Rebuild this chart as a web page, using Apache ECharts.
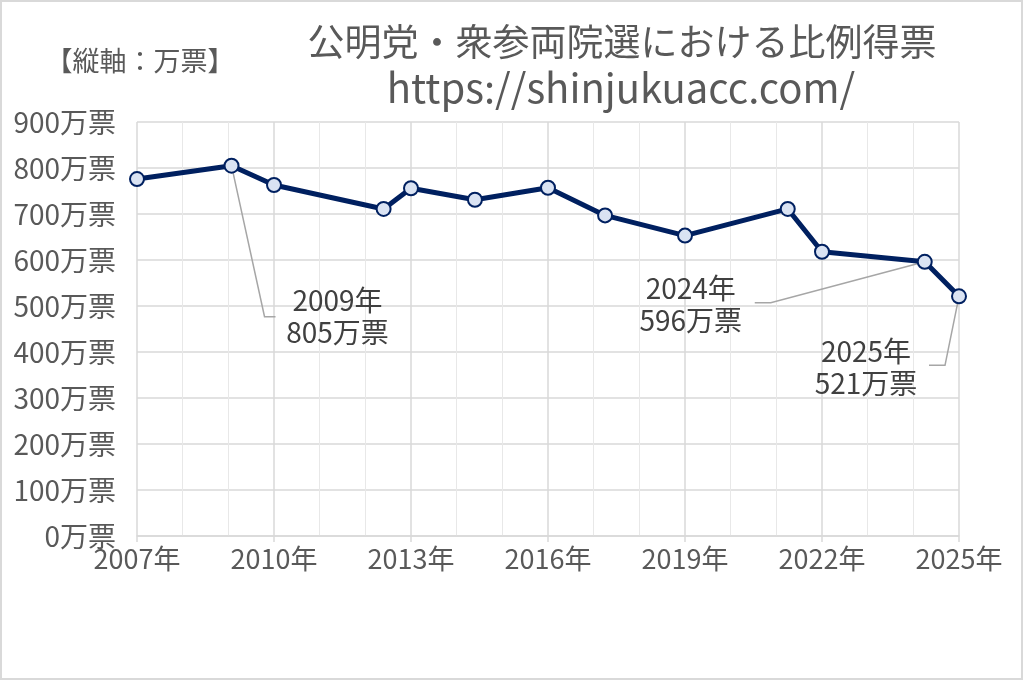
<!DOCTYPE html>
<html>
<head>
<meta charset="utf-8">
<script src="https://cdn.jsdelivr.net/npm/echarts@6/dist/echarts.min.js"></script>
<style>
html, body { margin: 0; padding: 0; background: #fff; }
#main { width: 1024px; height: 681px; }
</style>
</head>
<body>
<div id="main"></div>
<script>
// 選挙の時期（年、小数は月の位置）と比例得票（万票）
var electionYears = [2007, 2009.07, 2010, 2012.4, 2013, 2014.4, 2016, 2017.25, 2019, 2021.25, 2022, 2024.25, 2025];
var yearNames = ['2007', '2009', '2010', '2012', '2013', '2014', '2016', '2017', '2019', '2021', '2022', '2024', '2025'];
var votes = [776, 805, 763, 711, 756, 731, 757, 697, 653, 711, 618, 596, 521];
var calloutIndex = [1, 11, 12];
// ラベルのずらし量と引き出し線の折れ点（点からの相対ピクセル）
var calloutOffset = { 1: [106, 196], 11: [-234, 88], 12: [-93, 116] };
var calloutElbow = { 1: [[33, 151], [44, 151]], 11: [[-154, 41], [-170, 41]], 12: [[-14, 69], [-30, 69]] };

var font = '"Noto Sans CJK JP", "Noto Sans", sans-serif';

var seriesData = [];
for (var i = 0; i < votes.length; i++) {
	var item = { value: [electionYears[i], votes[i]] };
	if (calloutIndex.indexOf(i) >= 0) {
		item.label = {
			show: true,
			formatter: yearNames[i] + '年\n' + votes[i] + '万票'
		};
	}
	seriesData.push(item);
}

var chart = echarts.init(document.getElementById('main'));
var option = {
	backgroundColor: '#ffffff',
	animation: false,
	title: [
		{
			text: '公明党・衆参両院選における比例得票',
			left: 617,
			top: 18,
			textAlign: 'center',
			textStyle: { fontFamily: font, fontSize: 37, fontWeight: 'normal', color: '#595959' }
		},
		{
			text: 'https://shinjukuacc.com/',
			left: 616,
			top: 63,
			textAlign: 'center',
			textStyle: { fontFamily: font, fontSize: 40, fontWeight: 'normal', color: '#595959' }
		},
		{
			text: '【縦軸：万票】',
			left: 135,
			top: 42,
			textAlign: 'center',
			textStyle: { fontFamily: font, fontSize: 27, fontWeight: 'normal', color: '#595959' }
		}
	],
	grid: { left: 137, right: 65, top: 122, bottom: 145 },
	xAxis: {
		type: 'value',
		min: 2007,
		max: 2025,
		interval: 3,
		axisLine: { show: true, lineStyle: { color: '#d9d9d9', width: 1.5 } },
		axisTick: { show: true, length: 6, lineStyle: { color: '#d9d9d9', width: 1.5 } },
		minorTick: { show: false, splitNumber: 3 },
		splitLine: { show: true, lineStyle: { color: '#d9d9d9', width: 1.5 } },
		minorSplitLine: { show: true, lineStyle: { color: '#e8e8e8', width: 1 } },
		axisLabel: {
			margin: 9,
			fontFamily: font,
			fontSize: 27,
			color: '#595959',
			formatter: function (v) { return v + '年'; }
		}
	},
	yAxis: {
		type: 'value',
		min: 0,
		max: 900,
		interval: 100,
		axisLine: { show: false },
		axisTick: { show: false },
		splitLine: { show: true, lineStyle: { color: '#d9d9d9', width: 1.5 } },
		axisLabel: {
			margin: 21,
			fontFamily: font,
			fontSize: 28,
			color: '#595959',
			formatter: '{value}万票'
		}
	},
	series: [
		{
			name: '比例得票',
			type: 'line',
			data: seriesData,
			symbol: 'circle',
			symbolSize: 14,
			lineStyle: { color: '#002060', width: 5 },
			itemStyle: { color: '#dae3f3', borderColor: '#002060', borderWidth: 2 },
			label: {
				show: false,
				fontFamily: font,
				fontSize: 28,
				lineHeight: 32,
				color: '#404040',
				align: 'center'
			},
			labelLayout: function (params) {
				var off = calloutOffset[params.dataIndex];
				if (!off) return {};
				return { dx: off[0], dy: off[1] };
			},
			z: 5
		}
	]
};
chart.setOption(option);

// 引き出し線と外枠
function drawExtras() {
	var g = [
		{
			type: 'rect',
			id: 'frame',
			shape: { x: 1, y: 1, width: 1021, height: 678 },
			style: { fill: 'none', stroke: '#d9d9d9', lineWidth: 2 }
		}
	];
	calloutIndex.forEach(function (idx) {
		var p = chart.convertToPixel({ seriesIndex: 0 }, [electionYears[idx], votes[idx]]);
		var e = calloutElbow[idx];
		g.push({
			type: 'polyline',
			id: 'leader' + idx,
			z: 1,
			shape: { points: [p, [p[0] + e[0][0], p[1] + e[0][1]], [p[0] + e[1][0], p[1] + e[1][1]]] },
			style: { fill: 'none', stroke: '#a6a6a6', lineWidth: 1.5 }
		});
	});
	chart.setOption({ graphic: g });
}
drawExtras();
window.onresize = function () { chart.resize(); drawExtras(); };
</script>
</body>
</html>
